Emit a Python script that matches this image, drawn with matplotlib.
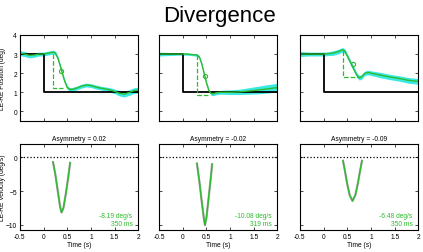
import numpy as np
import matplotlib
matplotlib.use('Agg')
import matplotlib.pyplot as plt

plt.rcParams['font.family'] = ['Liberation Sans', 'DejaVu Sans']

# position traces (LE-RE, deg) for the three example trials
t_pos = [
    [-0.5, -0.4, -0.3, -0.2, -0.1, 0.0, 0.1, 0.2, 0.25, 0.3, 0.35, 0.4, 0.45, 0.5, 0.55, 0.6,
     0.7, 0.8, 0.9, 1.0, 1.1, 1.2, 1.3, 1.4, 1.5, 1.6, 1.7, 1.8, 1.9, 2.0],
    [-0.5, -0.4, -0.3, -0.2, -0.1, 0.0, 0.1, 0.2, 0.3, 0.35, 0.4, 0.45, 0.5, 0.55, 0.6, 0.65,
     0.7, 0.8, 0.9, 1.0, 1.2, 1.4, 1.6, 1.8, 2.0],
    [-0.5, -0.3, -0.1, 0.0, 0.1, 0.2, 0.3, 0.4, 0.45, 0.5, 0.55, 0.6, 0.65, 0.7, 0.75, 0.8,
     0.85, 0.9, 0.95, 1.0, 1.2, 1.4, 1.6, 1.8, 2.0],
]
pos = [
    [3.05, 3.0, 2.93, 2.95, 3.0, 3.0, 3.05, 3.1, 3.05, 2.8, 2.4, 1.95, 1.55, 1.25, 1.15, 1.15,
     1.22, 1.32, 1.38, 1.35, 1.28, 1.22, 1.18, 1.12, 1.05, 0.95, 0.9, 0.98, 1.08, 1.12],
    [3.0, 3.0, 3.0, 3.0, 3.0, 3.0, 3.0, 2.97, 2.95, 2.85, 2.5, 2.0, 1.5, 1.1, 0.93, 0.92,
     0.97, 1.0, 1.0, 1.0, 1.02, 1.07, 1.12, 1.18, 1.25],
    [3.0, 3.0, 3.0, 3.0, 3.02, 3.05, 3.12, 3.22, 3.15, 2.9, 2.65, 2.4, 2.15, 1.9, 1.76, 1.8,
     1.95, 2.02, 2.03, 2.0, 1.9, 1.8, 1.72, 1.62, 1.57],
]
pos_sem = [
    [0.13, 0.13, 0.13, 0.12, 0.1, 0.1, 0.1, 0.1, 0.1, 0.1, 0.1, 0.1, 0.1, 0.1, 0.1, 0.1,
     0.1, 0.1, 0.1, 0.1, 0.1, 0.1, 0.1, 0.12, 0.12, 0.14, 0.15, 0.15, 0.15, 0.15],
    [0.1, 0.09, 0.08, 0.07, 0.06, 0.06, 0.06, 0.06, 0.06, 0.06, 0.07, 0.07, 0.07, 0.08, 0.09, 0.1,
     0.1, 0.1, 0.11, 0.12, 0.14, 0.17, 0.2, 0.22, 0.22],
    [0.13, 0.1, 0.1, 0.1, 0.1, 0.12, 0.12, 0.12, 0.12, 0.12, 0.12, 0.12, 0.12, 0.12, 0.12, 0.12,
     0.12, 0.12, 0.12, 0.12, 0.14, 0.14, 0.14, 0.15, 0.15],
]

# target step
t_step = [-0.5, 0.0, 0.0, 2.0]
step = [3, 3, 1, 1]

# saccade onset / end (dashed) and peak-velocity marker
onset_t = [0.2, 0.30, 0.41]
onset_y = [3.0, 2.97, 3.18]
end_t = [0.42, 0.56, 0.76]
end_y = [1.2, 0.85, 1.78]
peak_t = [0.375, 0.47, 0.62]
peak_y = [2.11, 1.85, 2.5]

# velocity traces (deg/s)
t_vel = [
    [0.2, 0.25, 0.3, 0.35, 0.38, 0.42, 0.47, 0.52, 0.56],
    [0.30, 0.35, 0.40, 0.45, 0.47, 0.50, 0.55, 0.60, 0.62],
    [0.41, 0.45, 0.5, 0.55, 0.61, 0.67, 0.72, 0.77, 0.81],
]
vel = [
    [-0.7, -2.6, -5.0, -7.4, -8.19, -7.5, -5.4, -3.0, -0.8],
    [-0.9, -3.5, -6.5, -9.3, -10.08, -9.0, -5.8, -2.5, -1.0],
    [-0.5, -2.0, -4.0, -5.6, -6.48, -5.6, -4.0, -2.0, -0.5],
]
peak_vel = ['-8.19 deg/s', '-10.08 deg/s', '-6.48 deg/s']
duration = ['350 ms', '319 ms', '350 ms']
asym = ['0.02', '-0.02', '-0.09']

green = '#2dbb2d'
cyan = '#3ae8e4'
fs = 4.8

fig = plt.figure(figsize=(4.23, 2.53), dpi=100)
fig.text(0.52, 0.935, 'Divergence', ha='center', va='center', fontsize=16)

lefts = [0.047, 0.376, 0.709]
for i in range(3):
    ax = fig.add_axes([lefts[i], 0.518, 0.28, 0.34])
    t = np.array(t_pos[i]); y = np.array(pos[i]); s = np.array(pos_sem[i])
    ax.fill_between(t, y - s, y + s, color=cyan, lw=0)
    ax.plot(t_step, step, color='k', lw=1.3)
    ax.plot(t, y, color=green, lw=1.0)
    ax.plot([onset_t[i], onset_t[i], end_t[i]], [onset_y[i], end_y[i], end_y[i]],
            '--', color=green, lw=0.9)
    ax.plot(peak_t[i], peak_y[i], 'o', mfc='none', mec=green, ms=3, mew=0.8)
    ax.set_xlim(-0.5, 2)
    ax.set_ylim(-0.5, 4)
    ax.set_yticks([0, 1, 2, 3, 4])
    ax.set_xticks([-0.5, 0, 0.5, 1, 1.5, 2])
    ax.set_xticklabels([])
    if i > 0:
        ax.set_yticklabels([])
    else:
        ax.set_ylabel('LE-RE Position (deg)', fontsize=fs)
        ax.yaxis.set_label_coords(-0.115, 0.5)
    ax.tick_params(direction='in', top=True, right=True, labelsize=fs, length=2, width=0.5, pad=2)

    bx = fig.add_axes([lefts[i], 0.087, 0.28, 0.34])
    bx.axhline(0, color='k', ls=':', lw=0.9)
    bx.plot(t_vel[i], vel[i], color='#aaaaaa', lw=1.6)
    bx.plot(t_vel[i], vel[i], color=green, lw=1.0)
    bx.text(0.95, 0.17, peak_vel[i], transform=bx.transAxes, ha='right', va='center',
            color=green, fontsize=fs)
    bx.text(0.95, 0.08, duration[i], transform=bx.transAxes, ha='right', va='center',
            color=green, fontsize=fs)
    bx.set_title('Asymmetry = ' + asym[i], fontsize=fs, pad=3)
    bx.set_xlim(-0.5, 2)
    bx.set_ylim(-10.8, 2)
    bx.set_yticks([-10, -5, 0])
    bx.set_xticks([-0.5, 0, 0.5, 1, 1.5, 2])
    bx.set_xticklabels(['-0.5', '0', '0.5', '1', '1.5', '2'])
    if i > 0:
        bx.set_yticklabels([])
    else:
        bx.set_ylabel('LE-RE Velocity (deg/s)', fontsize=fs)
        bx.yaxis.set_label_coords(-0.115, 0.5)
    bx.set_xlabel('Time (s)', fontsize=fs, labelpad=1)
    bx.tick_params(direction='in', top=True, right=True, labelsize=fs, length=2, width=0.5, pad=2)

    for a in (ax, bx):
        for sp in a.spines.values():
            sp.set_linewidth(0.8)

plt.savefig('out.png', dpi=100)
